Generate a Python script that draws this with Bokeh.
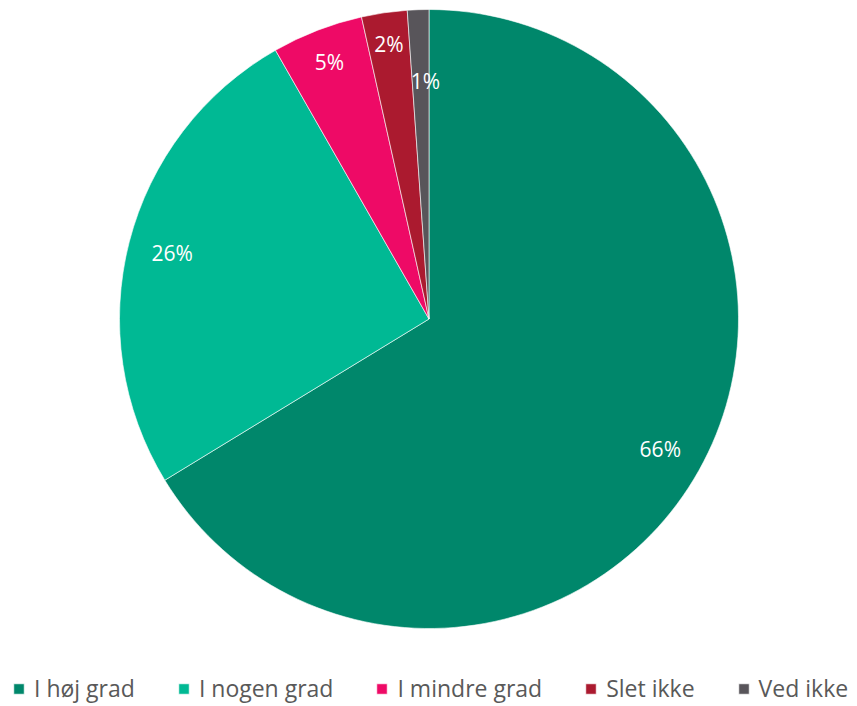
import math
from bokeh.plotting import figure
from bokeh.models import ColumnDataSource, Legend, LegendItem, Range1d
from bokeh.embed import file_html
from bokeh.resources import INLINE
from bokeh.core.properties import value

categories = ["I høj grad", "I nogen grad", "I mindre grad", "Slet ikke", "Ved ikke"]
shares = [66.28, 25.46, 4.76, 2.38, 1.12]
labels = ["66%", "26%", "5%", "2%", "1%"]
colors = ["#00876B", "#00B994", "#EE0A66", "#AB1A2F", "#58555A"]
label_radius_factor = [0.857, 0.857, 0.89, 0.897, 0.77]
label_angle_shift = [0.0, 0.0, 0.0, 0.0, -0.02]

W, H = 855, 704
cx, cy, R = 428.5, H - 318.5, 309.5

total = sum(shares)
start, end, lx, ly = [], [], [], []
cum = 0.0
for s, f, da in zip(shares, label_radius_factor, label_angle_shift):
    a0 = math.pi / 2 - 2 * math.pi * cum / total
    a1 = math.pi / 2 - 2 * math.pi * (cum + s) / total
    start.append(a1)
    end.append(a0)
    mid = (a0 + a1) / 2 + da
    lx.append(cx + R * f * math.cos(mid))
    ly.append(cy + R * f * math.sin(mid))
    cum += s

src = ColumnDataSource(dict(cat=categories, start=start, end=end, color=colors,
                            lab=labels, lx=lx, ly=ly))

p = figure(width=W, height=H, output_backend="svg", toolbar_location=None,
           x_range=Range1d(0, W), y_range=Range1d(0, H), min_border=0)
p.axis.visible = False
p.grid.visible = False
p.outline_line_color = None
p.background_fill_color = "white"
p.border_fill_color = "white"

r = p.wedge(x=cx, y=cy, radius=R, start_angle="start", end_angle="end",
            direction="anticlock", fill_color="color", line_color="white",
            line_width=0.6, source=src)

p.text(x="lx", y="ly", text="lab", source=src, text_color="white",
       text_font=value("Open Sans"), text_font_size="21px",
       text_align="center", text_baseline="middle")

items = [LegendItem(label=c, renderers=[r], index=i) for i, c in enumerate(categories)]
legend = Legend(items=items, orientation="horizontal", location=(12, 0),
                label_text_font="Open Sans", label_text_font_size="23px",
                label_text_color="#595959", glyph_width=13, glyph_height=13,
                label_standoff=9, spacing=42, padding=0, margin=0,
                border_line_color=None, background_fill_alpha=0)
p.add_layout(legend, "center")

open("out.html", "w").write(file_html(p, INLINE))
